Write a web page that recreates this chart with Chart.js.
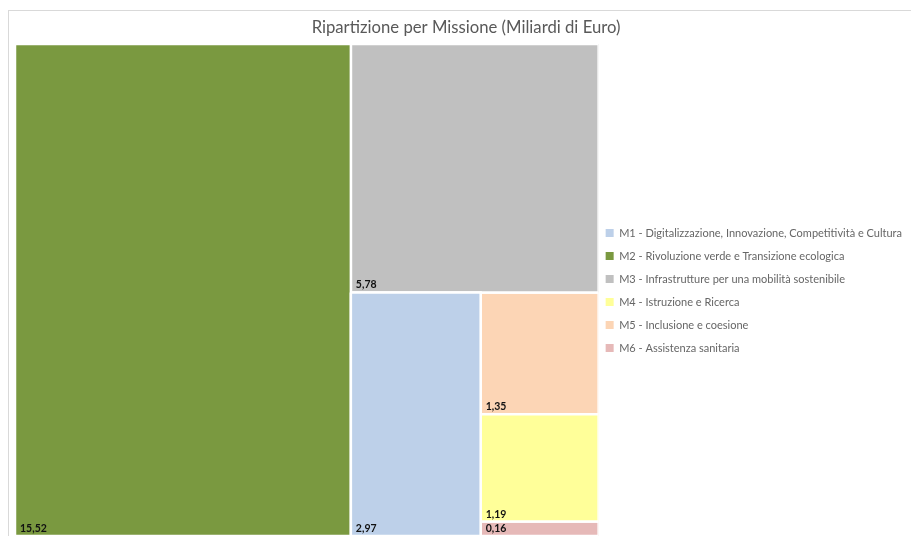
<!DOCTYPE html>
<html>
<head>
<meta charset="utf-8">
<script src="https://cdn.jsdelivr.net/npm/chart.js@4.4.1/dist/chart.umd.min.js"></script>
<style>
  html, body { margin: 0; padding: 0; background: #fff; overflow: hidden; }
  #cornice { position: absolute; left: 8px; top: 10px; width: 1000px; height: 600px; border: 1px solid #d9d9d9; }
  #grafico { display: block; }
</style>
</head>
<body>
<div id="cornice"><canvas id="grafico" width="908" height="526"></canvas></div>
<script>
// Dati: miliardi di euro per missione
const missioni = [
  'M1 - Digitalizzazione, Innovazione, Competitività e Cultura',
  'M2 - Rivoluzione verde e Transizione ecologica',
  'M3 - Infrastrutture per una mobilità sostenibile',
  'M4 - Istruzione e Ricerca',
  'M5 - Inclusione e coesione',
  'M6 - Assistenza sanitaria'
];
const valori = [2.97, 15.52, 5.78, 1.19, 1.35, 0.16];
const colori = ['#bdd0e9', '#7a9940', '#c0c0c0', '#ffff99', '#fcd5b5', '#e6b9b8'];

// spazio della mappa in unità dei due assi (proporzionato all'area del grafico)
const LARG = 584;
const ALT = 491;

// squarified treemap: restituisce un rettangolo per ogni missione
function worst(row, lato) {
  const s = row.reduce((a, r) => a + r.area, 0);
  const max = Math.max(...row.map(r => r.area));
  const min = Math.min(...row.map(r => r.area));
  return Math.max(lato * lato * max / (s * s), (s * s) / (lato * lato * min));
}

function calcolaCelle() {
  const totale = valori.reduce((a, v) => a + v, 0);
  let resto = valori
    .map((v, i) => ({ i, area: v / totale * LARG * ALT }))
    .sort((a, b) => b.area - a.area);
  let x = 0, y = 0, w = LARG, h = ALT;
  const celle = [];
  while (resto.length) {
    const lato = Math.min(w, h);
    const row = [resto[0]];
    let k = 1;
    while (k < resto.length && worst(row.concat(resto[k]), lato) <= worst(row, lato)) {
      row.push(resto[k]);
      k++;
    }
    resto = resto.slice(k);
    const s = row.reduce((a, r) => a + r.area, 0);
    if (w >= h) {
      const t = s / h;
      let yy = y;
      row.forEach(r => {
        const hh = r.area / t;
        celle[r.i] = { x0: x, x1: x + t, y0: yy, y1: yy + hh };
        yy += hh;
      });
      x += t; w -= t;
    } else {
      const t = s / w;
      let xx = x;
      row.forEach(r => {
        const ww = r.area / t;
        celle[r.i] = { x0: xx, x1: xx + ww, y0: y, y1: y + t };
        xx += ww;
      });
      y += t; h -= t;
    }
  }
  return celle;
}

const celle = calcolaCelle();

function formatta(v) {
  return v.toFixed(2).replace('.', ',');
}

const datasets = missioni.map((nome, i) => {
  const c = celle[i];
  return {
    label: nome,
    data: [
      { x: c.x0, y: c.y0 }, { x: c.x1, y: c.y0 },
      { x: c.x1, y: c.y1 }, { x: c.x0, y: c.y1 },
      { x: c.x0, y: c.y0 }
    ],
    showLine: true,
    fill: 'shape',
    backgroundColor: colori[i],
    borderColor: '#ffffff',
    borderWidth: 2.5,
    pointRadius: 0,
    pointHoverRadius: 0,
    tension: 0
  };
});

// etichette dei valori in basso a sinistra di ogni cella
const etichette = {
  id: 'etichette',
  afterLayout(chart) {
    // legenda un po' più vicina alla mappa
    chart.legend.left -= 5;
    chart.legend.right -= 5;
  },
  afterDatasetsDraw(chart) {
    const { ctx, scales: { x, y } } = chart;
    ctx.save();
    ctx.font = '700 10.5px Lato';
    ctx.fillStyle = '#111111';
    ctx.textBaseline = 'alphabetic';
    celle.forEach((c, i) => {
      const left = x.getPixelForValue(c.x0);
      const bottom = y.getPixelForValue(c.y1);
      ctx.fillText(formatta(valori[i]), left + 5, bottom - 4);
    });
    ctx.restore();
  }
};

new Chart(document.getElementById('grafico').getContext('2d'), {
  type: 'scatter',
  data: { datasets: datasets },
  options: {
    responsive: false,
    animation: false,
    events: [],
    layout: { padding: { left: 6, right: 0, top: 0, bottom: 1 } },
    scales: {
      x: { type: 'linear', min: 0, max: LARG, display: false },
      y: { type: 'linear', min: 0, max: ALT, reverse: true, display: false }
    },
    plugins: {
      title: {
        display: true,
        text: 'Ripartizione per Missione (Miliardi di Euro)',
        color: '#595959',
        font: { family: 'Lato', size: 16.7, weight: 'normal' },
        padding: { top: 7, bottom: 6 }
      },
      legend: {
        position: 'right',
        title: {
          display: true,
          text: '',
          font: { size: 10 },
          padding: { top: 11, bottom: 11 }
        },
        labels: {
          color: '#595959',
          font: { family: 'Lato', size: 11 },
          boxWidth: 8,
          boxHeight: 8,
          padding: 12,
          generateLabels: chart => chart.data.datasets.map((ds, i) => ({
            text: ds.label,
            fillStyle: ds.backgroundColor,
            strokeStyle: ds.backgroundColor,
            lineWidth: 0,
            hidden: false,
            datasetIndex: i
          }))
        }
      },
      tooltip: { enabled: false }
    }
  },
  plugins: [etichette]
});
</script>
</body>
</html>
